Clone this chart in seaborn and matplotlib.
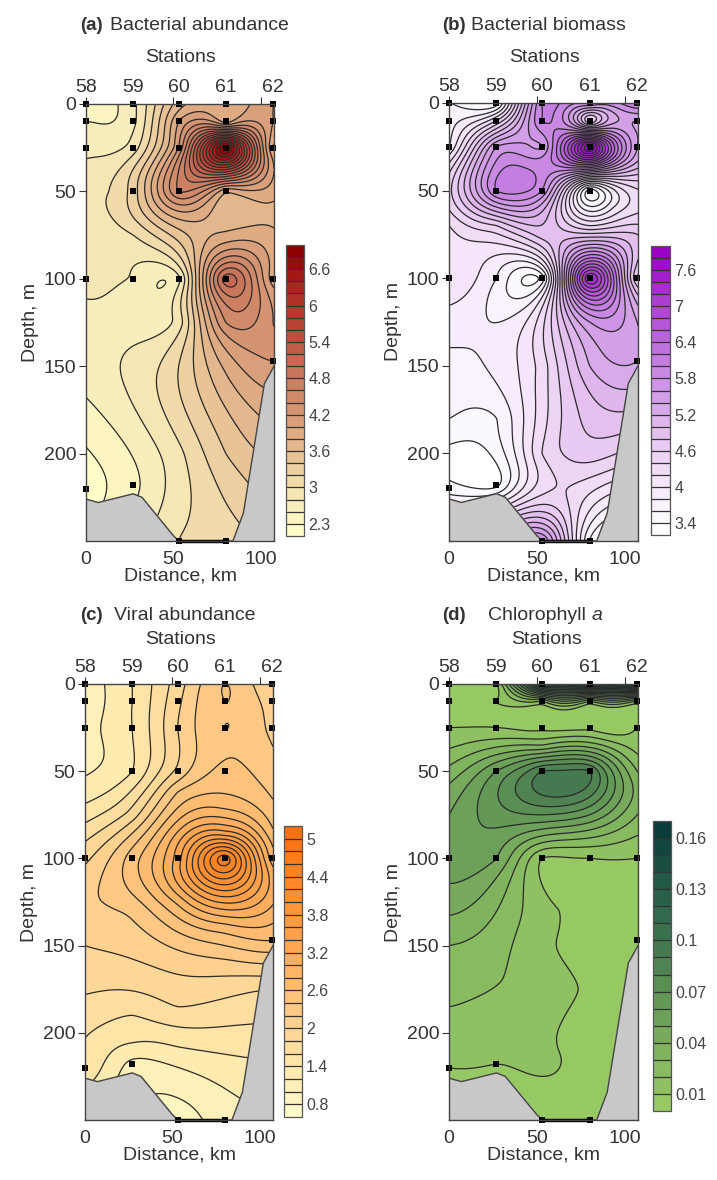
import numpy as np
import pandas as pd
import matplotlib
matplotlib.use("Agg")
import matplotlib.pyplot as plt
import seaborn as sns

W, H = 717, 1180

# sampling points (station distance, km / depth, m)
station_names = ["58", "59", "60", "61", "62"]
station_pos = [0, 27, 53, 80, 107]
sample_km = [0, 0, 0, 0, 0,
             27, 27, 27, 27, 27, 27,
             53, 53, 53, 53, 53, 53,
             80, 80, 80, 80, 80, 80,
             107, 107, 107, 107, 107]
sample_depth = [0, 10, 25, 100, 220,
                0, 10, 25, 50, 100, 218,
                0, 10, 25, 50, 100, 250,
                0, 10, 25, 50, 100, 250,
                0, 10, 25, 100, 147]

# values read at the sampling points
abundance = [2.5, 2.6, 2.75, 2.85, 2.3,
             2.75, 2.75, 2.9, 3.3, 2.78, 2.55,
             3.7, 4.0, 4.2, 4.6, 2.75, 3.0,
             4.0, 3.9, 7.0, 3.85, 5.1, 3.1,
             4.0, 4.0, 3.8, 3.9, 4.2]
biomass = [3.6, 3.7, 3.8, 4.2, 3.5,
           3.5, 4.4, 5.6, 6.0, 3.8, 3.35,
           6.0, 6.0, 5.6, 5.8, 3.5, 5.8,
           5.8, 4.6, 8.0, 3.3, 7.4, 3.6,
           6.0, 5.4, 5.4, 4.6, 5.4]
viral = [1.1, 1.1, 1.15, 1.95, 1.55,
         1.4, 1.4, 1.4, 1.4, 2.5, 1.15,
         1.9, 1.95, 2.0, 2.05, 3.3, 0.9,
         2.4, 2.4, 2.4, 2.45, 4.7, 1.1,
         2.0, 2.1, 2.15, 2.9, 2.6]
chla = [0.01, 0.008, 0.01, 0.055, 0.01,
        0.01, 0.01, 0.01, 0.06, 0.05, 0.01,
        0.14, 0.02, 0.007, 0.09, 0.01, 0.005,
        0.16, 0.02, 0.007, 0.09, 0.01, 0.005,
        0.17, 0.02, 0.01, 0.01, 0.005]

# further readings between the stations (km, depth, value)
abundance_km = [0, 27, 53, 80, 107, 13, 27, 53, 80, 107, 0, 27, 53, 80, 53, 80, 107]
abundance_dp = [50, 75, 75, 75, 75, 50, 125, 125, 125, 125, 150, 150, 150, 150, 200, 200, 50]
abundance_ex = [2.95, 3.0, 3.5, 3.85, 3.85, 3.0, 2.75, 2.9, 4.4, 4.2, 2.7, 2.85, 3.2, 3.85, 2.95, 3.4, 3.9]
biomass_km = [0, 27, 53, 80, 107, 93, 80, 107, 0, 27, 53, 80, 0, 27, 20, 53, 80, 67]
biomass_dp = [70, 70, 75, 70, 75, 60, 125, 125, 150, 150, 150, 150, 180, 180, 205, 200, 200, 225]
biomass_ex = [4.2, 4.6, 4.9, 4.4, 4.8, 4.0, 5.6, 5.4, 3.75, 3.85, 4.3, 5.2, 3.6, 3.6, 3.3, 4.4, 4.7, 4.4]
viral_km = [27, 53, 80, 107, 27, 53, 80, 0, 0, 0, 0, 27, 53, 100, 27, 53, 95, 80, 53, 107, 80, 53]
viral_dp = [75, 62, 70, 70, 130, 140, 140, 125, 150, 178, 203, 203, 185, 176, 190, 208, 195, 85, 80, 85, 160, 125]
viral_ex = [1.9, 2.4, 2.75, 2.45, 2.25, 2.45, 2.7, 2.15, 2.0, 1.8, 1.6, 1.45, 1.8, 1.8, 1.6, 1.4, 1.6,
            3.45, 2.85, 2.65, 2.15, 2.85]
chla_km = [0, 0, 27, 53, 80, 107, 107, 107, 53, 80, 0, 0, 0, 27, 53, 85, 80, 53, 27, 107, 72, 60, 30, 62]
chla_dp = [50, 75, 75, 75, 75, 50, 75, 40, 35, 35, 150, 185, 125, 150, 150, 160, 200, 190, 200, 125, 175, 215, 170, 130]
chla_ex = [0.033, 0.05, 0.065, 0.07, 0.06, 0.03, 0.03, 0.02, 0.03, 0.035, 0.03, 0.02, 0.045, 0.024,
           0.012, 0.007, 0.006, 0.0125, 0.012, 0.006, 0.0103, 0.0105, 0.02, 0.0102]

# sea floor outline
floor_km = [0, 7, 27, 32, 50, 53, 84, 90, 102, 107.5]
floor_depth = [226, 228, 223, 225, 247, 250, 250, 234, 160, 150]

# colour scale stops and tick labels
abundance_colors = ["#fffdc8", "#f5e4b2", "#e5bb90", "#d59672", "#c8735a", "#bb4a3a", "#b02a20", "#8c0000"]
biomass_colors = ["#ffffff", "#f5e6fa", "#e6c4f0", "#d09ae6", "#bd6ddc", "#ab3cd2", "#9a00c4"]
viral_colors = ["#fffac8", "#ffe2a4", "#ffc47e", "#ffa650", "#ff8c2c", "#fb7010"]
chla_colors = ["#96c864", "#7fb25e", "#5f9455", "#3f744f", "#235a48", "#0c3c3a"]

abundance_ticks = [2.4, 3, 3.6, 4.2, 4.8, 5.4, 6, 6.6]
abundance_labels = ["2.3", "3", "3.6", "4.2", "4.8", "5.4", "6", "6.6"]
biomass_ticks = [3.4, 4, 4.6, 5.2, 5.8, 6.4, 7, 7.6]
biomass_labels = ["3.4", "4", "4.6", "5.2", "5.8", "6.4", "7", "7.6"]
viral_ticks = [0.8, 1.4, 2, 2.6, 3.2, 3.8, 4.4, 5]
viral_labels = ["0.8", "1.4", "2", "2.6", "3.2", "3.8", "4.4", "5"]
chla_ticks = [0.01, 0.04, 0.07, 0.1, 0.13, 0.16]
chla_labels = ["0.01", "0.04", "0.07", "0.1", "0.13", "0.16"]

sns.set_theme(style="ticks")
plt.rcParams["font.family"] = ["Liberation Sans", "DejaVu Sans"]
plt.rcParams["text.color"] = "#333333"
plt.rcParams["axes.labelcolor"] = "#333333"
plt.rcParams["xtick.color"] = "#333333"
plt.rcParams["ytick.color"] = "#333333"


def px_rect(left, top, right, bottom):
    return [left / W, 1 - bottom / H, (right - left) / W, (bottom - top) / H]


def surface(values, ex_km, ex_dp, ex_val, gx, gy):
    # spline through the readings, used only to contour them
    px = np.array(sample_km + ex_km, float)
    py = np.array(sample_depth + ex_dp, float)
    v = np.array(values + ex_val, float)
    def kernel(dx, dy):
        r = np.sqrt(dx ** 2 + (1.25 * dy) ** 2) + 1e-9
        return r ** 1.6
    n = len(px)
    K = kernel(px[:, None] - px[None, :], py[:, None] - py[None, :])
    P = np.column_stack([np.ones(n), px, py])
    A = np.block([[K, P], [P.T, np.zeros((3, 3))]])
    w = np.linalg.solve(A, np.concatenate([v, np.zeros(3)]))
    G = kernel(gx.ravel()[:, None] - px[None, :], gy.ravel()[:, None] - py[None, :])
    z = G @ w[:n] + w[n] + w[n + 1] * gx.ravel() + w[n + 2] * gy.ravel()
    return z.reshape(gx.shape)


def draw_panel(fig, rect, cbar_rect, values, extras, stops, lo, hi, step, ticks, labels):
    ax = fig.add_axes(px_rect(*rect))
    gx, gy = np.meshgrid(np.linspace(0, 107.5, 260), np.linspace(0, 250, 500))
    z = surface(values, *extras, gx, gy)
    n = int(round((hi - lo) / step))
    levels = lo + step * np.arange(n + 1)
    colors = sns.blend_palette(stops, n_colors=n)
    z = np.clip(z, lo + 1e-6, hi - 1e-6)
    cf = ax.contourf(gx, gy, z, levels=levels, colors=colors)
    ax.contour(gx, gy, z, levels=levels, colors="#2b2b2b", linewidths=0.9)

    # sea floor
    fx = np.array(floor_km)
    ax.fill_between(fx, floor_depth, 250, color="#c8c8c8", zorder=3)
    ax.plot(fx, floor_depth, color="#444444", lw=1, zorder=4)
    ax.plot([53, 80], [250, 250], color="black", lw=2.5, zorder=5, clip_on=False)

    samples = pd.DataFrame({"km": sample_km, "depth": sample_depth})
    sns.scatterplot(data=samples, x="km", y="depth", marker="s", color="black", s=16,
                    linewidth=0, ax=ax, zorder=6, clip_on=False)

    ax.set_xlim(0, 107.5)
    ax.set_ylim(250, 0)
    ax.set_xticks([0, 50, 100])
    ax.set_yticks([0, 50, 100, 150, 200])
    ax.tick_params(axis="x", bottom=False, top=True, labelsize=14, length=5, width=0.8, pad=2)
    ax.tick_params(axis="y", labelsize=14, length=5, width=0.8, pad=2)
    ax.set_xlabel("Distance, km", fontsize=14, labelpad=0)
    ax.set_ylabel("Depth, m", fontsize=14, labelpad=3)
    for s in ax.spines.values():
        s.set_visible(True)
        s.set_color("#444444")
        s.set_linewidth(1)
        s.set_zorder(7)

    top = ax.secondary_xaxis("top")
    top.set_xticks(station_pos, labels=station_names)
    top.tick_params(length=0, labelsize=14, pad=6)
    top.spines["top"].set_visible(False)

    cax = fig.add_axes(px_rect(*cbar_rect))
    cb = fig.colorbar(cf, cax=cax, drawedges=True)
    cb.set_ticks(ticks, labels=labels)
    cb.ax.tick_params(length=0, labelsize=11.5, pad=3, labelcolor="#444444")
    cb.ax.minorticks_off()
    cb.dividers.set_color("#333333")
    cb.dividers.set_linewidth(0.9)
    cb.outline.set_edgecolor("#555555")
    cb.outline.set_linewidth(0.9)
    return ax


def put_text(fig, x, y, s, **kw):
    fig.text(x / W, 1 - y / H, s, va="center", **kw)


fig = plt.figure(figsize=(W / 100, H / 100), dpi=100)

draw_panel(fig, (86, 104, 274, 541), (286, 245, 304, 536), abundance,
           (abundance_km, abundance_dp, abundance_ex), abundance_colors, 2.2, 7.0, 0.2,
           abundance_ticks, abundance_labels)
draw_panel(fig, (449, 103, 638, 541), (651, 246, 670, 535), biomass,
           (biomass_km, biomass_dp, biomass_ex), biomass_colors, 3.2, 8.0, 0.2,
           biomass_ticks, biomass_labels)
draw_panel(fig, (85, 684, 273, 1120), (284, 826, 302, 1117), viral,
           (viral_km, viral_dp, viral_ex), viral_colors, 0.6, 5.2, 0.2,
           viral_ticks, viral_labels)
draw_panel(fig, (449, 684, 638, 1120), (653, 821, 671, 1111), chla,
           (chla_km, chla_dp, chla_ex), chla_colors, 0.0, 0.17, 0.01,
           chla_ticks, chla_labels)

put_text(fig, 80, 25, "(a)", fontsize=13.5, fontweight="bold")
put_text(fig, 110, 25, "Bacterial abundance", fontsize=14)
put_text(fig, 180, 57, "Stations", fontsize=14, ha="center")
put_text(fig, 442, 25, "(b)", fontsize=13.5, fontweight="bold")
put_text(fig, 471, 25, "Bacterial biomass", fontsize=14)
put_text(fig, 545, 57, "Stations", fontsize=14, ha="center")
put_text(fig, 80, 616, "(c)", fontsize=13.5, fontweight="bold")
put_text(fig, 114, 616, "Viral abundance", fontsize=14)
put_text(fig, 180, 639, "Stations", fontsize=14, ha="center")
put_text(fig, 442, 616, "(d)", fontsize=13.5, fontweight="bold")
put_text(fig, 488, 616, "Chlorophyll", fontsize=14)
put_text(fig, 592, 616, "a", fontsize=14, style="italic")
put_text(fig, 547, 639, "Stations", fontsize=14, ha="center")

fig.savefig("out.png", dpi=100)
